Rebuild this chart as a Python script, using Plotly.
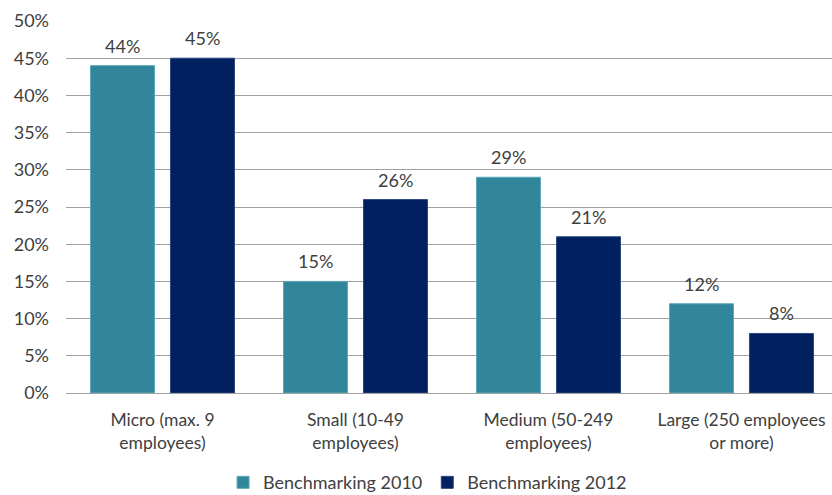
import plotly.graph_objects as go

categories = ["Micro (max. 9<br>employees)", "Small (10-49<br>employees)",
              "Medium (50-249<br>employees)", "Large (250 employees<br>or more)"]
series_2010 = [44, 15, 29, 12]
series_2012 = [45, 26, 21, 8]
y_ticks = [0, 5, 10, 15, 20, 25, 30, 35, 40, 45, 50]

font_family = "Lato, Open Sans, sans-serif"
text_color = "#404040"
fs = 18
bargap = 0.171
slot = (1 - bargap) / 2

fig = go.Figure()
fig.add_trace(go.Bar(
    name="Benchmarking 2010", x=categories, y=series_2010,
    marker=dict(color="#31869B", line=dict(color="#5FA8BA", width=1)),
))
fig.add_trace(go.Bar(
    name="Benchmarking 2012", x=categories, y=series_2012,
    marker=dict(color="#002060", line=dict(color="#2A4A80", width=1)),
))

annotations = []
for i, (a, b) in enumerate(zip(series_2010, series_2012)):
    for off, v in ((-slot / 2, a), (slot / 2, b)):
        annotations.append(dict(x=i + off, y=v, xref="x", yref="y", text=f"{v}%",
                                showarrow=False, yanchor="middle", yshift=20,
                                font=dict(size=fs, color=text_color, family=font_family)))

fig.update_layout(
    width=832, height=495,
    margin=dict(l=66, r=0, t=21, b=102, autoexpand=False),
    paper_bgcolor="white", plot_bgcolor="white",
    barmode="group", bargap=bargap, bargroupgap=0.2,
    font=dict(family=font_family, size=fs, color=text_color),
    showlegend=True,
    annotations=annotations,
    legend=dict(orientation="h", x=0.472, xanchor="center", y=-0.241, yanchor="middle",
                font=dict(size=18, color=text_color), itemwidth=30, traceorder="normal"),
    xaxis=dict(range=[-0.5, 3.469], showgrid=False, showline=True, linecolor="#A0A0A0",
               linewidth=1, ticks="", ticklabelstandoff=11, automargin=False,
               tickfont=dict(size=17.5, color=text_color), fixedrange=True),
    yaxis=dict(range=[0, 50], tickvals=y_ticks, ticktext=[f"{v}%" for v in y_ticks],
               showgrid=True, gridcolor="#A0A0A0", gridwidth=1, zeroline=False,
               showline=False, ticks="", ticklabelstandoff=16, automargin=False,
               tickfont=dict(size=fs, color=text_color), fixedrange=True),
)

fig.write_html("out.html", config={"displayModeBar": False},
               post_script="document.body.style.margin='0';")
